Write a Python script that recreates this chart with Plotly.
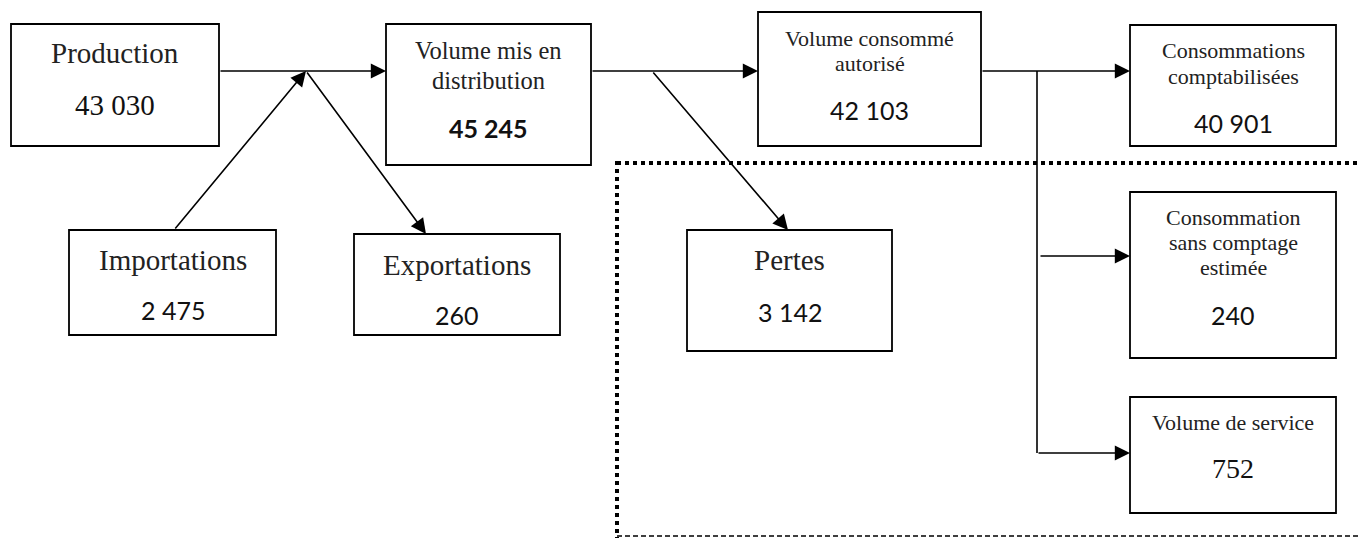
import plotly.graph_objects as go

# ---------------- data ----------------
node_ids = ["production", "importations", "exportations", "distribution", "autorise",
            "pertes", "comptabilisees", "sans_comptage", "service"]
node_labels = ["Production", "Importations", "Exportations", "Volume mis en\ndistribution",
               "Volume consommé\nautorisé", "Pertes", "Consommations\ncomptabilisées",
               "Consommation\nsans comptage\nestimée", "Volume de service"]
node_values = [43030, 2475, 260, 45245, 42103, 3142, 40901, 240, 752]

# ---------------- layout (pixel space, y downwards) ----------------
W, H = 1360, 538
boxes = {
    "production": (11, 24, 219, 146),
    "importations": (69, 230, 276, 335),
    "exportations": (354, 234, 560, 335),
    "distribution": (386, 24, 591, 165),
    "autorise": (758, 12, 981, 146),
    "pertes": (687, 230, 892, 351),
    "comptabilisees": (1130, 25, 1336, 146),
    "sans_comptage": (1130, 192, 1336, 358),
    "service": (1130, 397, 1336, 513),
}
# label line y positions, label size, value y, value style
text_pos = {
    "production": ([53], 29, 105, "serif", 29, False),
    "importations": ([260], 29, 310, "sans", 25, False),
    "exportations": ([265], 29, 315, "sans", 25, False),
    "distribution": ([50, 80], 24.5, 128, "sans", 25, True),
    "autorise": ([38, 63], 22, 110, "sans", 25, False),
    "pertes": ([260], 29, 312, "sans", 25, False),
    "comptabilisees": ([50, 76], 22, 123, "sans", 25, False),
    "sans_comptage": ([217, 242, 267], 22, 315, "sans", 25, False),
    "service": ([422], 22, 468, "serif", 28, False),
}
SERIF = "Liberation Serif"
SANS = "Lato"

def fmt(v):
    return f"{v:,}".replace(",", " ")

fig = go.Figure()
shapes = []
annotations = []

for nid, label, val in zip(node_ids, node_labels, node_values):
    x0, y0, x1, y1 = boxes[nid]
    shapes.append(dict(type="rect", xref="x", yref="y", x0=x0, y0=y0, x1=x1, y1=y1,
                       line=dict(color="black", width=1.8), fillcolor="white", layer="above"))
    ys, lsize, vy, vfam, vsize, vbold = text_pos[nid]
    cx = (x0 + x1) / 2
    for line, ly in zip(label.split("\n"), ys):
        annotations.append(dict(x=cx, y=ly, xref="x", yref="y", text=line, showarrow=False,
                                font=dict(family=SERIF, size=lsize, color="#222"),
                                xanchor="center", yanchor="middle"))
    vt = fmt(val)
    if vbold:
        vt = "<b>" + vt + "</b>"
    annotations.append(dict(x=cx, y=vy, xref="x", yref="y", text=vt, showarrow=False,
                            font=dict(family=SERIF if vfam == "serif" else SANS, size=vsize, color="#111"),
                            xanchor="center", yanchor="middle"))

# connector lines (no head)
plain_lines = [
    ((1037, 71), (1037, 453)),
]
for (xa, ya), (xb, yb) in plain_lines:
    shapes.append(dict(type="line", xref="x", yref="y", x0=xa, y0=ya, x1=xb, y1=yb,
                       line=dict(color="black", width=1.6)))

# arrows: tail -> tip
arrows = [
    ((219, 71), (386, 71)),
    ((174, 230), (306, 71)),
    ((306, 71), (426, 234)),
    ((591, 71), (758, 71)),
    ((652, 71), (788, 230)),
    ((981, 71), (1130, 71)),
    ((1039, 256), (1130, 256)),
    ((1037, 453), (1130, 453)),
]
for (xa, ya), (xb, yb) in arrows:
    annotations.append(dict(x=xb, y=yb, ax=xa, ay=ya, xref="x", yref="y", axref="x", ayref="y",
                            text="", showarrow=True, arrowhead=2, arrowsize=1.9, arrowwidth=1.6,
                            arrowcolor="black", standoff=0, startstandoff=0))

# dotted boundary of losses region
shapes.append(dict(type="line", xref="x", yref="y", x0=617, y0=163, x1=W, y1=163,
                   line=dict(color="black", width=4, dash="4px,4px"), layer="below"))
shapes.append(dict(type="line", xref="x", yref="y", x0=617, y0=161, x1=617, y1=H,
                   line=dict(color="black", width=4, dash="4px,4px"), layer="below"))
shapes.append(dict(type="line", xref="x", yref="y", x0=617, y0=536, x1=W, y1=536,
                   line=dict(color="black", width=1.6, dash="5px,3px"), layer="below"))

fig.update_layout(
    width=W, height=H, margin=dict(l=0, r=0, t=0, b=0),
    paper_bgcolor="white", plot_bgcolor="white",
    xaxis=dict(range=[0, W], visible=False, fixedrange=True),
    yaxis=dict(range=[H, 0], visible=False, fixedrange=True),
    shapes=shapes, annotations=annotations, showlegend=False,
)

fig.write_html("out.html", config={"displayModeBar": False},
               post_script="document.body.style.margin='0px';document.body.style.overflow='hidden';")
